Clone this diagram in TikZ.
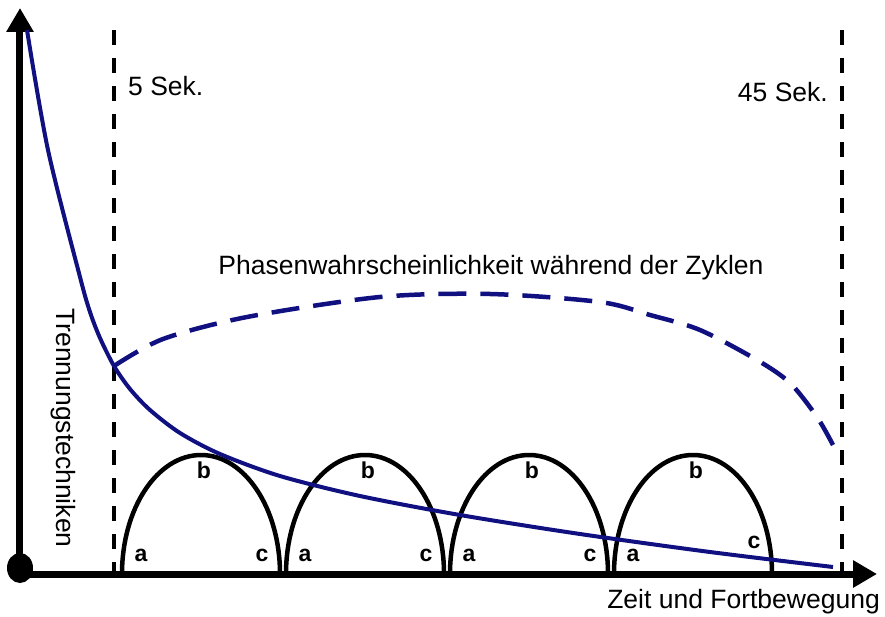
\documentclass[tikz,border=0pt]{standalone}
\usepackage{fontspec}
\setmainfont{Liberation Sans}
\usetikzlibrary{arrows.meta}
\definecolor{navyblue}{RGB}{16,16,128}

\begin{document}
\begin{tikzpicture}[x=1pt,y=1pt,
  axis/.style={line width=7pt,-{Triangle[length=24pt,width=26pt]}},
  marker/.style={line width=4pt,dash pattern=on 15pt off 13pt},
  decay/.style={line width=4pt,draw=navyblue},
  phase/.style={line width=4.5pt,draw=navyblue,dash pattern=on 28pt off 14pt},
  arch/.style={line width=4.5pt},
  lbl/.style={inner sep=0pt,font=\fontsize{26.5}{30}\selectfont},
  cyc/.style={inner sep=0pt,font=\fontsize{23}{26}\selectfont\bfseries}]
\useasboundingbox (-20,-42) rectangle (865,574);
\fill (0,6) circle[x radius=13,y radius=15];
\draw[axis] (0,0) -- (0,566);
\draw[axis] (0,0) -- (857,0);
\draw[marker] (94,544) -- (94,0);
\draw[marker] (822,544) -- (822,0);
\foreach \cx/\cy [count=\i] in {181/19,345/19,509/19,673/32} {
  \draw[arch] (\cx-79,0) arc[start angle=180,end angle=0,x radius=79,y radius=119];
  \node[cyc] (a\i) at (\cx-60,19) {a};
  \node[cyc] (b\i) at (\cx+3,104) {b};
  \node[cyc] (c\i) at (\cx+61,\cy) {c};
}
\coordinate (start) at (94,208);
\draw[decay] plot[smooth] coordinates {(7,544) (28,424) (60,297) (70,262) (80,236) (start) (110,185) (130,164) (160,141) (200,120) (260,98) (340,78) (440,59) (560,40) (690,22) (813,7)};
\draw[phase] plot[smooth] coordinates {(start) (143,235) (227,257) (360,277) (470,280) (580,272) (630,259) (680,244) (737,214) (770,191) (797,157) (813,129)};
\node[lbl,anchor=west] (t5) at (108,488) {5 Sek.};
\node[lbl,anchor=east] (t45) at (808,482) {45 Sek.};
\node[lbl] (phasen) at (471,306) {Phasenwahrscheinlichkeit während der Zyklen};
\node[lbl,anchor=east] (xlab) at (860,-28) {Zeit und Fortbewegung};
\node[lbl,rotate=-90] (ylab) at (43,146) {Trennungstechniken};
\end{tikzpicture}
\end{document}
